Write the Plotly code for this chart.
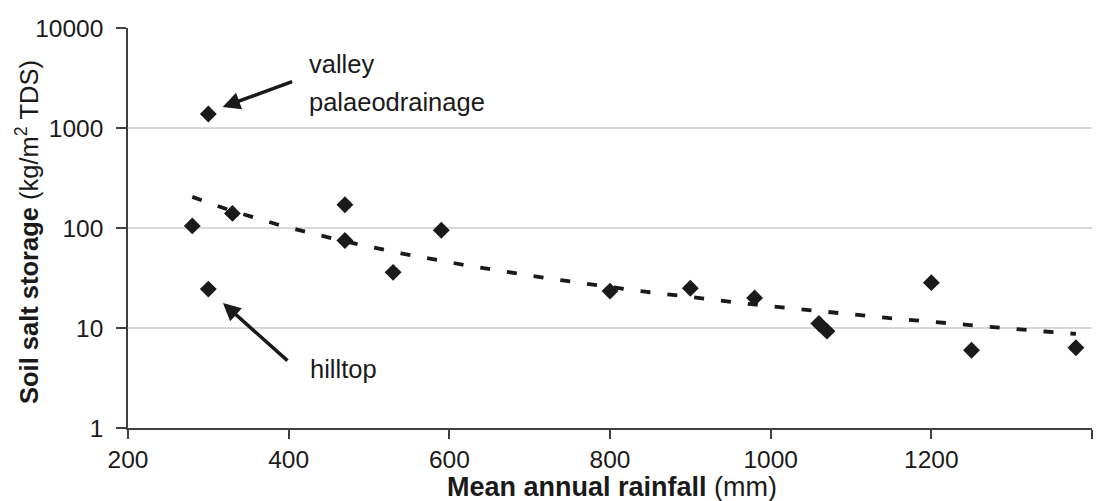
import numpy as np
import plotly.graph_objects as go

# Data
rainfall = [280, 300, 300, 330, 470, 470, 530, 590, 800, 900, 980, 1060, 1070, 1200, 1250, 1380]
salt = [105, 1380, 24.5, 140, 171, 75, 36, 95, 23.4, 25, 20, 11.1, 9.3, 28.4, 6.0, 6.35]
y_ticks = [1, 10, 100, 1000, 10000]
x_ticks = [200, 400, 600, 800, 1000, 1200, 1400]

# Power-law trendline fitted to the data (as in the original spreadsheet chart)
b, a = np.polyfit(np.log(rainfall), np.log(salt), 1)
xt = np.linspace(min(rainfall), max(rainfall), 200)
yt = np.exp(a) * xt ** b

FONT = "Arial, Liberation Sans, sans-serif"
INK = "#1a1a1a"

fig = go.Figure()
fig.add_trace(go.Scatter(x=xt, y=yt, mode="lines",
                         line=dict(color=INK, width=3.8, dash="10px,17px"),
                         hoverinfo="skip", showlegend=False))
fig.add_trace(go.Scatter(x=rainfall, y=salt, mode="markers",
                         marker=dict(symbol="diamond", size=13, color=INK,
                                     line=dict(width=0)),
                         showlegend=False))

annotations = [
    # arrows
    dict(x=317.8, y=3.21, xref="x", yref="y", ax=71, ay=-26, text="",
         showarrow=True, arrowhead=2, arrowsize=1.0, arrowwidth=3.5, arrowcolor=INK, standoff=0),
    dict(x=318.2, y=1.25, xref="x", yref="y", ax=66, ay=59, text="",
         showarrow=True, arrowhead=2, arrowsize=1.0, arrowwidth=3.5, arrowcolor=INK, standoff=0),
    # labels
    dict(x=422.5, y=3.64, xref="x", yref="y", text="valley", showarrow=False,
         xanchor="left", yanchor="middle", font=dict(family=FONT, size=25.5, color=INK)),
    dict(x=422.5, y=3.264, xref="x", yref="y", text="palaeodrainage", showarrow=False,
         xanchor="left", yanchor="middle", font=dict(family=FONT, size=25.5, color=INK)),
    dict(x=424.5, y=0.594, xref="x", yref="y", text="hilltop", showarrow=False,
         xanchor="left", yanchor="middle", font=dict(family=FONT, size=25.5, color=INK)),
    # axis titles
    dict(x=(612 - 128) / 964, y=(428 - 487) / 400, xref="paper", yref="paper",
         text="<b>Mean annual rainfall</b> (mm)", showarrow=False,
         xanchor="center", yanchor="middle", font=dict(family=FONT, size=27, color=INK)),
    dict(x=(27 - 128) / 964, y=(428 - 232) / 400, xref="paper", yref="paper",
         text="<b>Soil salt storage</b> (kg/m<sup>2</sup> TDS)", showarrow=False, textangle=-90,
         xanchor="center", yanchor="middle", font=dict(family=FONT, size=25.5, color=INK)),
]

fig.update_layout(
    width=1118, height=501,
    margin=dict(l=128, r=26, t=28, b=73),
    paper_bgcolor="white", plot_bgcolor="white",
    font=dict(family=FONT, size=24, color=INK),
    annotations=annotations,
    xaxis=dict(range=[200, 1400], tickvals=x_ticks, showgrid=False, zeroline=False,
               showline=True, linecolor="#404040", linewidth=1.5,
               ticks="outside", ticklen=9, tickwidth=1.5, tickcolor="#404040",
               tickfont=dict(family=FONT, size=24.5, color=INK)),
    yaxis=dict(type="log", range=[0, 4], tickvals=y_ticks, ticktext=[str(v) for v in y_ticks],
               showgrid=True, gridcolor="#d9d9d9", gridwidth=1.5, zeroline=False,
               showline=True, linecolor="#404040", linewidth=1.5,
               ticks="outside", ticklen=10, tickwidth=1.5, tickcolor="#404040",
               ticklabelstandoff=8,
               tickfont=dict(family=FONT, size=24.5, color=INK)),
)

fig.write_html("out.html")
